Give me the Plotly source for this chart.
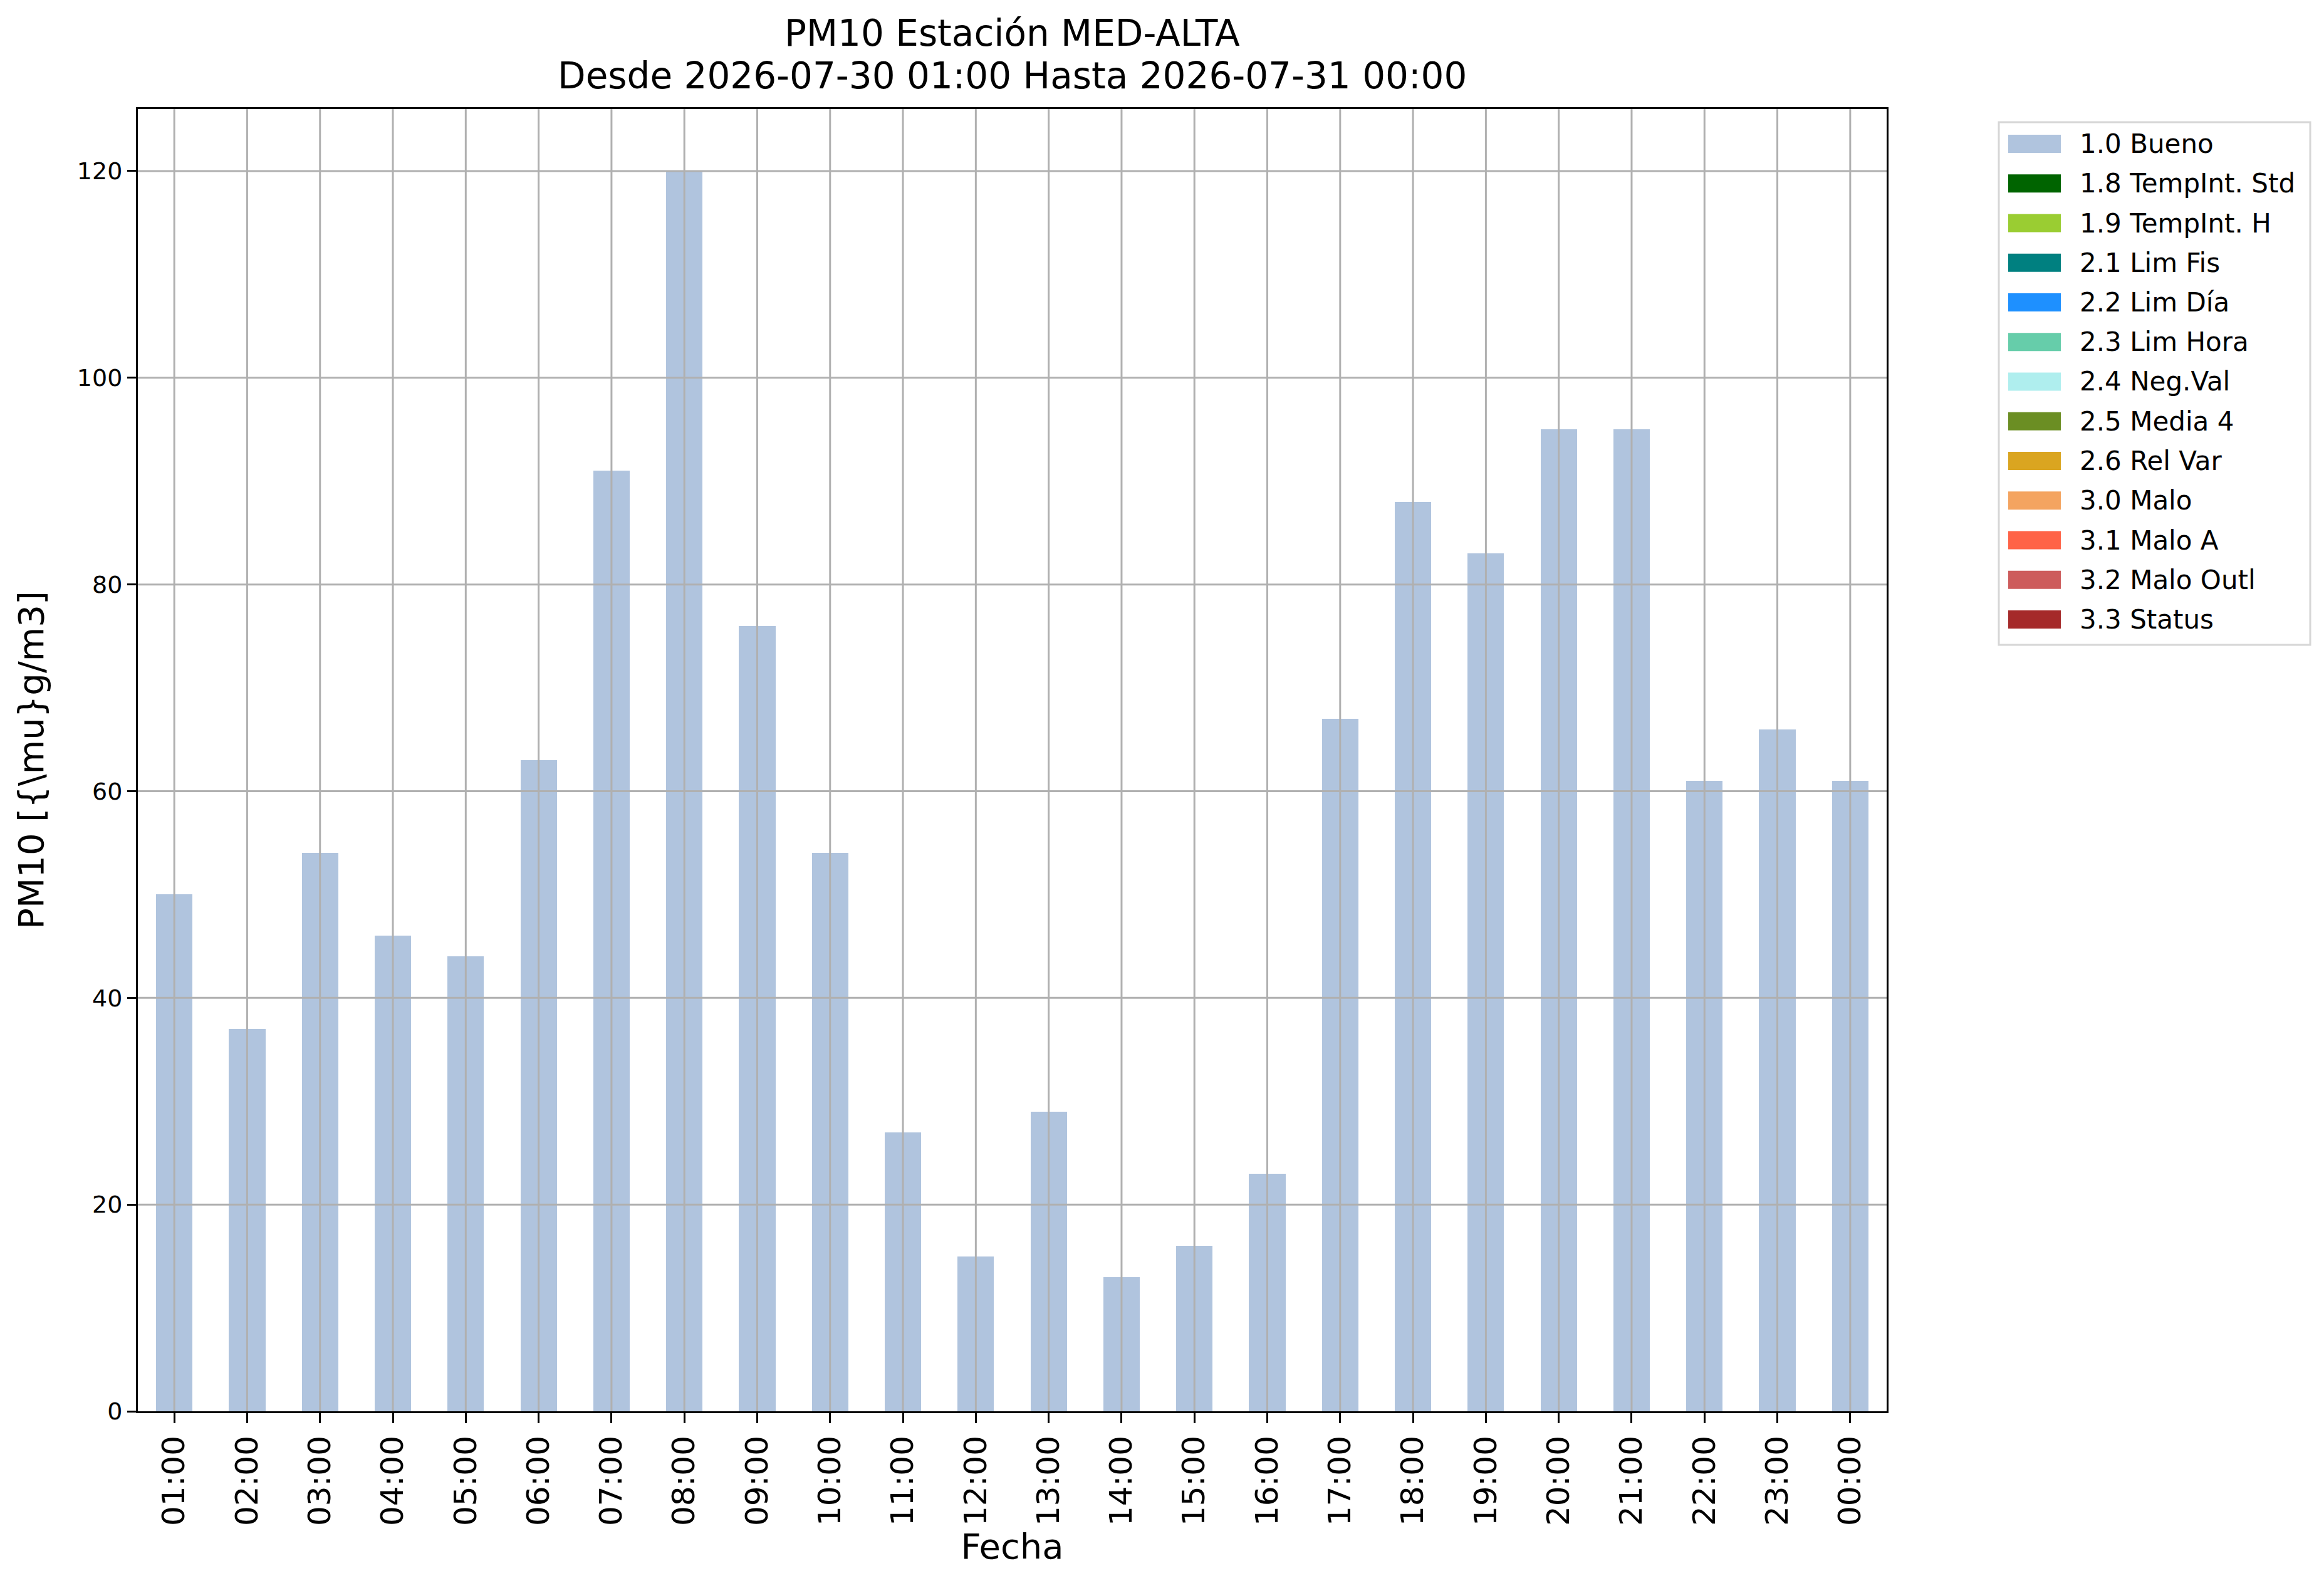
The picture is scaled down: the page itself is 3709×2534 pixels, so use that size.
import plotly.graph_objects as go

# hourly PM10 values, station MED-ALTA
horas = ['01:00', '02:00', '03:00', '04:00', '05:00', '06:00', '07:00', '08:00',
         '09:00', '10:00', '11:00', '12:00', '13:00', '14:00', '15:00', '16:00',
         '17:00', '18:00', '19:00', '20:00', '21:00', '22:00', '23:00', '00:00']
pm10_bueno = [50, 37, 54, 46, 44, 63, 91, 120, 76, 54, 27, 15,
              29, 13, 16, 23, 67, 88, 83, 95, 95, 61, 66, 61]

# quality flags, only "Bueno" has data in this window
flags = ['1.0 Bueno', '1.8 TempInt. Std', '1.9 TempInt. H', '2.1 Lim Fis',
         '2.2 Lim Día', '2.3 Lim Hora', '2.4 Neg.Val', '2.5 Media 4',
         '2.6 Rel Var', '3.0 Malo', '3.1 Malo A', '3.2 Malo Outl', '3.3 Status']
flag_colors = ['lightsteelblue', 'darkgreen', 'yellowgreen', 'teal', 'dodgerblue',
               'mediumaquamarine', 'paleturquoise', 'olivedrab', 'goldenrod',
               'sandybrown', 'tomato', 'indianred', 'brown']

y_ticks = [0, 20, 40, 60, 80, 100, 120]

titulo = 'PM10 Estación MED-ALTA'
subtitulo = 'Desde 2026-07-30 01:00 Hasta 2026-07-31 00:00'

FONT = 'DejaVu Sans'
GRID = '#b0b0b0'

W, H = 3709, 2534
ML, MR, MT, MB = 212, 706, 166, 290
PW, PH = W - ML - MR, H - MT - MB


def px_x(px):
    return (px - ML) / PW


def px_y(py):
    return (H - MB - py) / PH


fig = go.Figure()

for i, (flag, color) in enumerate(zip(flags, flag_colors)):
    values = pm10_bueno if i == 0 else [0] * len(horas)
    fig.add_trace(
        go.Bar(
            name=flag,
            x=horas,
            y=values,
            width=0.5,
            marker_color=color,
            marker_line_width=0,
            showlegend=False,
        )
    )

# grid drawn on top of the bars, like matplotlib does
shapes = []
for h in horas:
    shapes.append(dict(type='line', xref='x', yref='paper', x0=h, x1=h, y0=0, y1=1,
                       line=dict(color=GRID, width=3), layer='above'))
for t in y_ticks[1:]:
    shapes.append(dict(type='line', xref='paper', yref='y', x0=0, x1=1, y0=t, y1=t,
                       line=dict(color=GRID, width=3), layer='above'))

# legend box drawn by hand so the swatches get matplotlib's size
annotations = []
shapes.append(dict(type='rect', xref='paper', yref='paper',
                   x0=px_x(3182), x1=px_x(3679), y0=px_y(187), y1=px_y(1021),
                   line=dict(color='#d6d6d6', width=3), fillcolor='white', layer='above'))
for i, (flag, color) in enumerate(zip(flags, flag_colors)):
    cy = 221.5 + i * 63.25
    shapes.append(dict(type='rect', xref='paper', yref='paper',
                       x0=px_x(3197), x1=px_x(3281), y0=px_y(cy - 14.5), y1=px_y(cy + 14.5),
                       line=dict(width=0), fillcolor=color, layer='above'))
    annotations.append(dict(text=flag, xref='paper', yref='paper',
                            x=px_x(3309), y=px_y(cy), xanchor='left', yanchor='middle',
                            showarrow=False, font=dict(size=42, family=FONT, color='black')))

# two-line title
annotations.append(dict(text=titulo, xref='paper', yref='paper', x=0.5, y=px_y(45),
                        xanchor='center', yanchor='middle', showarrow=False,
                        font=dict(size=58, family=FONT, color='black')))
annotations.append(dict(text=subtitulo, xref='paper', yref='paper', x=0.5, y=px_y(113),
                        xanchor='center', yanchor='middle', showarrow=False,
                        font=dict(size=58, family=FONT, color='black')))

fig.update_layout(
    width=W,
    height=H,
    barmode='stack',
    plot_bgcolor='white',
    paper_bgcolor='white',
    font=dict(family=FONT, color='black'),
    margin=dict(l=ML, r=MR, t=MT, b=MB, autoexpand=False),
    showlegend=False,
    shapes=shapes,
    annotations=annotations,
    bargap=0.5,
)

fig.update_xaxes(
    type='category',
    range=[-0.5, len(horas) - 0.5],
    showgrid=False,
    showline=True, linecolor='black', linewidth=3, mirror=True,
    ticks='outside', ticklen=16, tickwidth=3, tickcolor='black',
    tickangle=-90,
    tickfont=dict(size=50, family=FONT),
    title=dict(text='Fecha', font=dict(size=56, family=FONT), standoff=12),
)
fig.update_yaxes(
    range=[0, 126],
    tickvals=y_ticks,
    showgrid=False,
    zeroline=False,
    showline=True, linecolor='black', linewidth=3, mirror=True,
    ticks='outside', ticklen=14, tickwidth=3, tickcolor='black',
    tickfont=dict(size=38, family=FONT),
    title=dict(text='PM10 [{\\mu}g/m3]', font=dict(size=56, family=FONT), standoff=36),
)

fig.write_html('out.html')
